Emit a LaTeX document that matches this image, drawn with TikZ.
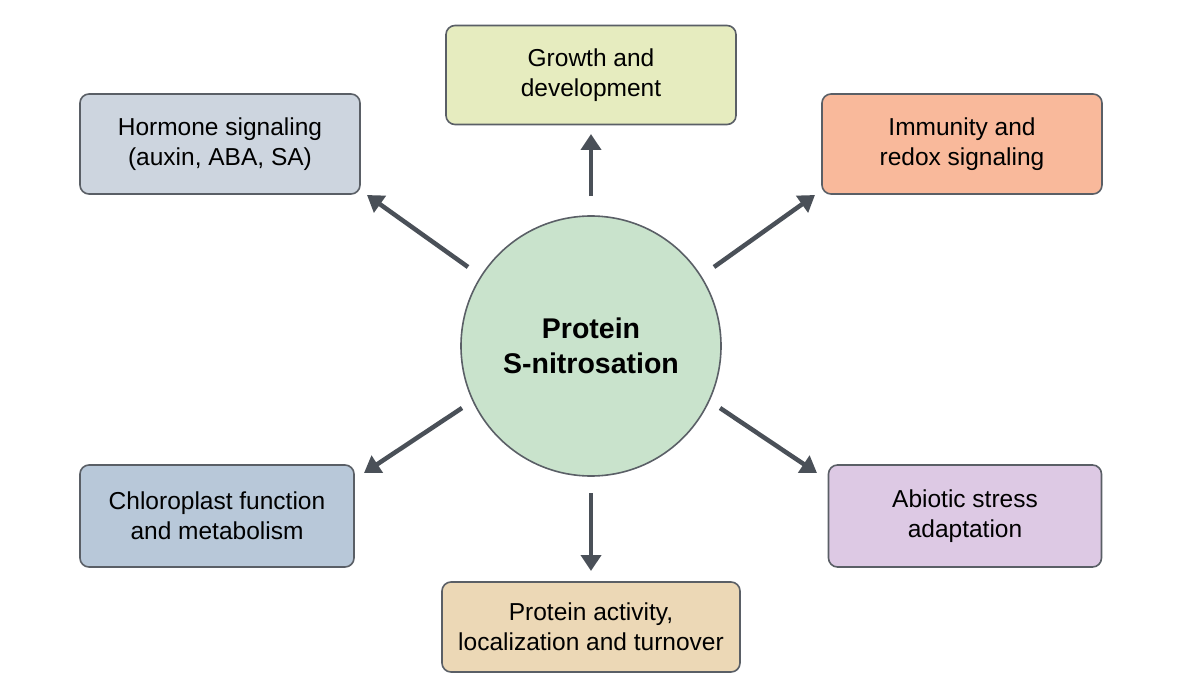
\documentclass[tikz,border=0pt]{standalone}
\usepackage{fontspec}
\setmainfont{Liberation Sans}
\usetikzlibrary{arrows.meta}
\definecolor{cg}{HTML}{E6ECBF}
\definecolor{ch}{HTML}{CDD5DF}
\definecolor{ci}{HTML}{F9B99B}
\definecolor{cc}{HTML}{B8C8D9}
\definecolor{ca}{HTML}{DDC9E4}
\definecolor{cp}{HTML}{ECD8B6}
\definecolor{cm}{HTML}{C9E3CC}
\definecolor{edge}{HTML}{5A5F66}
\definecolor{arr}{HTML}{4A5058}
\begin{document}
\begin{tikzpicture}[x=1pt,y=-1pt,
 box/.style={draw=edge,line width=1.6pt,rounded corners=9pt,align=center,font=\fontsize{24.5}{30}\selectfont,inner sep=0pt},
 arrow/.style={draw=arr,line width=4.5pt,-{Triangle[length=16pt,width=20pt]}}]
\useasboundingbox (0,0) rectangle (1183,690);
\fill[white] (0,0) rectangle (1183,690);
\node[circle,draw=edge,line width=1.6pt,fill=cm,minimum size=260pt,align=center,font=\bfseries\fontsize{28.5}{35}\selectfont] (c) at (591,346) {Protein\\S-nitrosation};
\path (591,357) coordinate (cc0);
\node[box,fill=cg,minimum width=290pt,minimum height=99pt] (g) at (591,75) {Growth and\\development};
\node[box,fill=ch,minimum width=280pt,minimum height=100pt] (h) at (220,144) {Hormone signaling\\(auxin, ABA, SA)};
\node[box,fill=ci,minimum width=280pt,minimum height=100pt] (i) at (962,144) {Immunity and\\redox signaling};
\node[box,fill=cc,minimum width=274pt,minimum height=102pt] (k) at (217,516) {Chloroplast function\\and metabolism};
\node[box,fill=ca,minimum width=273pt,minimum height=102pt] (a) at (965,516) {Abiotic stress\\adaptation};
\node[box,fill=cp,minimum width=298pt,minimum height=90pt] (p) at (591,627) {Protein activity,\\localization and turnover};
\coordinate (s1) at (591,196); \coordinate (e1) at (591,134);
\coordinate (s2) at (468,267); \coordinate (e2) at (367,195);
\coordinate (s3) at (714,267); \coordinate (e3) at (815,195);
\coordinate (s4) at (462,408); \coordinate (e4) at (364,473);
\coordinate (s5) at (720,408); \coordinate (e5) at (817,473);
\coordinate (s6) at (591,493); \coordinate (e6) at (591,571);
\foreach \n in {1,...,6} \draw[arrow] (s\n) -- (e\n);
\end{tikzpicture}
\end{document}
